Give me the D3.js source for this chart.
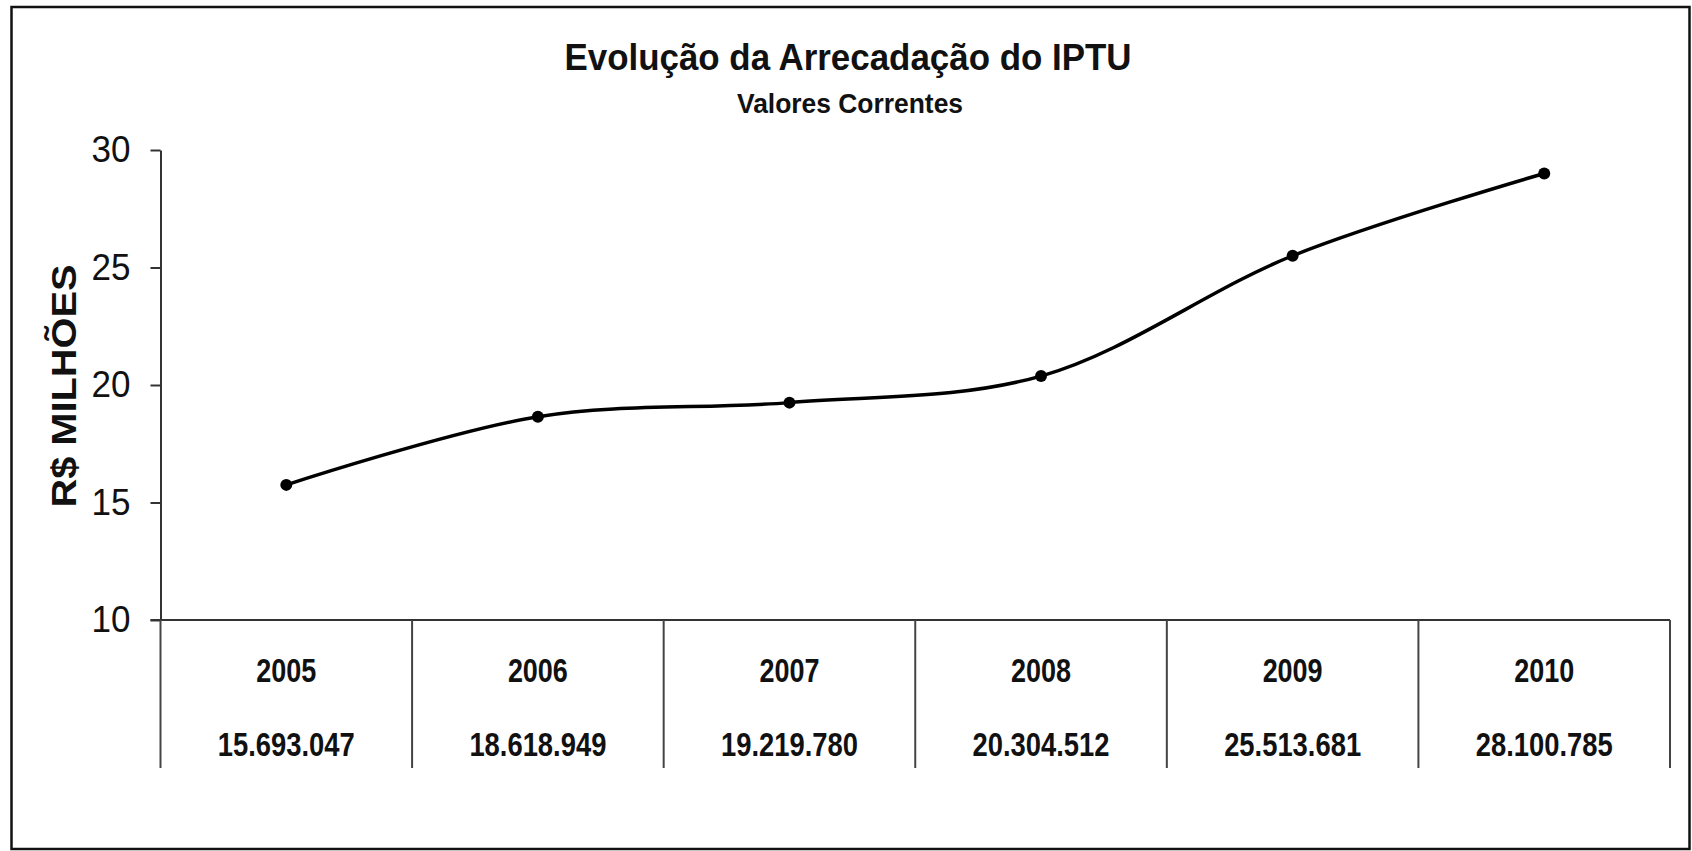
<!DOCTYPE html>
<html>
<head>
<meta charset="utf-8">
<script src="https://cdn.jsdelivr.net/npm/d3@7"></script>
<style>
  html, body { margin: 0; padding: 0; background: #fff; }
  svg { display: block; }
  text { font-family: 'Liberation Sans', Arial, sans-serif; fill: #111; }
</style>
</head>
<body>
<div class="chart"></div>
<script>
// chart data
var years = ['2005', '2006', '2007', '2008', '2009', '2010'];
// values as plotted in the picture (R$ milhões)
var plotted = [15.75, 18.65, 19.25, 20.38, 25.5, 29.0];
// values printed in the table under the axis
var tableLabels = ['15.693.047', '18.618.949', '19.219.780', '20.304.512', '25.513.681', '28.100.785'];
var yTicks = [10, 15, 20, 25, 30];

var fullWidth = 1692, fullHeight = 851;
var margin = {top: 150, right: 22, bottom: 231, left: 160.5};
var width = fullWidth - margin.left - margin.right;
var height = fullHeight - margin.top - margin.bottom;

var svg = d3.select('.chart')
	.append('svg')
	.attr('width', fullWidth)
	.attr('height', fullHeight);

// the original uses a narrow font, squeeze the glyphs to its widths
function squeeze(sel, len) {
	sel.attr('textLength', len).attr('lengthAdjust', 'spacingAndGlyphs');
}

// outer frame
svg.append('rect')
	.attr('x', 11.5).attr('y', 7)
	.attr('width', 1678).attr('height', 842)
	.style('fill', 'none')
	.style('stroke', '#111')
	.style('stroke-width', 2.5);

// titles
svg.append('text')
	.attr('x', 848).attr('y', 70)
	.attr('text-anchor', 'middle')
	.style('font-size', '37px').style('font-weight', 'bold')
	.text('Evolução da Arrecadação do IPTU')
	.call(squeeze, 567);

svg.append('text')
	.attr('x', 850).attr('y', 113)
	.attr('text-anchor', 'middle')
	.style('font-size', '28px').style('font-weight', 'bold')
	.text('Valores Correntes')
	.call(squeeze, 226);

var g = svg.append('g')
	.attr('transform', 'translate(' + margin.left + ', ' + margin.top + ')');

var xScale = d3.scaleBand()
	.domain(years)
	.range([0, width])
	.padding(0);

var yScale = d3.scaleLinear()
	.domain([10, 30])
	.range([height, 0]);

// y axis
var yAxis = d3.axisLeft(yScale)
	.tickValues(yTicks)
	.tickSizeInner(10)
	.tickSizeOuter(0)
	.tickPadding(20);

var yG = g.append('g')
	.attr('class', 'yaxis')
	.call(yAxis);

yG.select('.domain').style('stroke', '#333').style('stroke-width', 2);
yG.selectAll('.tick line').style('stroke', '#333').style('stroke-width', 2);
yG.selectAll('.tick text')
	.attr('font-family', null)
	.style('font-family', "'Liberation Sans', Arial, sans-serif")
	.style('font-size', '36px')
	.style('fill', '#111')
	.call(squeeze, 39);

// y axis title
svg.append('text')
	.attr('transform', 'translate(76, 386) rotate(-90)')
	.attr('text-anchor', 'middle')
	.style('font-size', '35px').style('font-weight', 'bold')
	.text('R$ MILHÕES')
	.call(squeeze, 243);

// data table under the x axis
var tableBottom = 148;

g.append('line')
	.attr('x1', -10).attr('x2', width)
	.attr('y1', height).attr('y2', height)
	.style('stroke', '#333').style('stroke-width', 2);

var bounds = years.map(function(d) { return xScale(d); }).concat([width]);

g.selectAll('.sep')
	.data(bounds)
	.enter()
	.append('line')
	.attr('class', 'sep')
	.attr('x1', function(d) { return d; })
	.attr('x2', function(d) { return d; })
	.attr('y1', height)
	.attr('y2', height + tableBottom)
	.style('stroke', '#444')
	.style('stroke-width', 2);

g.selectAll('.year')
	.data(years)
	.enter()
	.append('text')
	.attr('class', 'year')
	.attr('x', function(d) { return xScale(d) + xScale.bandwidth() / 2; })
	.attr('y', height + 62)
	.attr('text-anchor', 'middle')
	.style('font-size', '33px').style('font-weight', 'bold')
	.text(function(d) { return d; })
	.call(squeeze, 60);

g.selectAll('.val')
	.data(tableLabels)
	.enter()
	.append('text')
	.attr('class', 'val')
	.attr('x', function(d, i) { return xScale(years[i]) + xScale.bandwidth() / 2; })
	.attr('y', height + 136)
	.attr('text-anchor', 'middle')
	.style('font-size', '33px').style('font-weight', 'bold')
	.text(function(d) { return d; })
	.call(squeeze, 137);

// the series
var line = d3.line()
	.x(function(d, i) { return xScale(years[i]) + xScale.bandwidth() / 2; })
	.y(function(d) { return yScale(d); })
	.curve(d3.curveCatmullRom.alpha(0.5));

g.append('path')
	.datum(plotted)
	.attr('class', 'line')
	.attr('d', line)
	.style('stroke', '#000')
	.style('stroke-width', 3.5)
	.style('fill', 'none');

g.selectAll('.dot')
	.data(plotted)
	.enter()
	.append('circle')
	.attr('class', 'dot')
	.attr('cx', function(d, i) { return xScale(years[i]) + xScale.bandwidth() / 2; })
	.attr('cy', function(d) { return yScale(d); })
	.attr('r', 6)
	.style('fill', '#000');
</script>
</body>
</html>
